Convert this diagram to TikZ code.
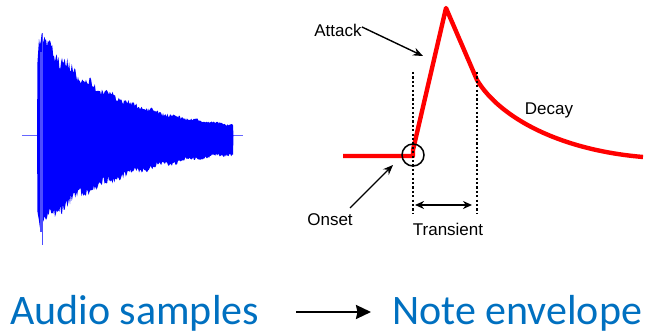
\documentclass[tikz,border=0pt]{standalone}
\usepackage{fontspec}
\setmainfont{Liberation Sans}
\newfontfamily\calib{Carlito}
\usetikzlibrary{arrows.meta}
\definecolor{wblue}{RGB}{0,0,255}
\definecolor{ofblue}{RGB}{0,112,192}
\definecolor{envred}{RGB}{255,0,0}
\begin{document}
\begin{tikzpicture}[x=1pt,y=-1pt,
  lbl/.style={font=\fontsize{17}{20}\selectfont, anchor=base, inner sep=0pt},
  big/.style={font=\calib\fontsize{42}{48}\selectfont, text=ofblue, anchor=base west, inner sep=0pt},
  env/.style={draw=envred, line width=4.4pt, line join=round},
  guide/.style={draw=black, line width=2.2pt, dash pattern=on 2.2pt off 2.2pt},
  pointer/.style={draw=black, line width=1.4pt, -{Stealth[length=10pt,width=8pt]}}]
\useasboundingbox (0,0) rectangle (657,336);
% ---------- waveform ----------
\pgfmathsetseed{7}
\draw[wblue!60, line width=1pt] (22,136) -- (243,136);
\fill[wblue] (37,136) -- (37.5,62)
  -- plot[domain=39:233, samples=220] (\x, {136 - (4+94*exp(-(\x-40)/75))*(1+0.08*rand+0.05*sin(\x*17))})
  -- (233.5,136)
  -- plot[domain=233:39, samples=220] (\x, {136 + (10+78*exp(-(\x-40)/85))*(1+0.08*rand+0.05*sin(\x*13))})
  -- (37.5,212) -- cycle;
\draw[wblue!70, line width=1.6pt] (42.5,33) -- (42.5,245);
\draw[wblue!70, line width=1.2pt] (41,52) -- (41,232);
% ---------- envelope ----------
\coordinate (onsetpt) at (413,155);
\coordinate (peak) at (446,8);
\coordinate (kink) at (477,80);
\coordinate (tail) at (643,157);
\draw[env] (343,156) -- (413,156) -- (413,150) -- (peak) -- (kink)
  .. controls (500,118) and (560,150) .. (tail);
\draw[guide] (413,72) -- (413,214);
\draw[guide] (477,72) -- (477,214);
\node[draw=black, line width=1.5pt, circle, minimum size=22pt, inner sep=0pt] (circ) at (onsetpt) {};
\coordinate (tl) at (415,205);
\coordinate (tr) at (472,205);
\draw[line width=2.2pt, {Stealth[length=9pt,width=8pt]}-{Stealth[length=9pt,width=8pt]}] (tl) -- (tr);
\node[lbl] (attack) at (338,37) {Attack};
\node[lbl] (decay) at (549,115) {Decay};
\node[lbl] (onset) at (330,226) {Onset};
\node[lbl] (transient) at (448,236) {Transient};
\coordinate (attip) at (423,56);
\coordinate (ontip) at (393,165);
\draw[pointer] (attack.east) ++(0,-4) coordinate (atst) -- (attip);
\draw[pointer] (350,208) coordinate (onst) -- (ontip);
% ---------- bottom ----------
\node[big] (audio) at (10,325) {Audio samples};
\node[big] (note) at (392,325) {Note envelope};
\coordinate (a1) at (296,312);
\coordinate (a2) at (371,312);
\draw[line width=2.2pt, -{Stealth[length=15pt,width=14pt,inset=1.5pt]}] (a1) -- (a2);
\end{tikzpicture}
\end{document}
